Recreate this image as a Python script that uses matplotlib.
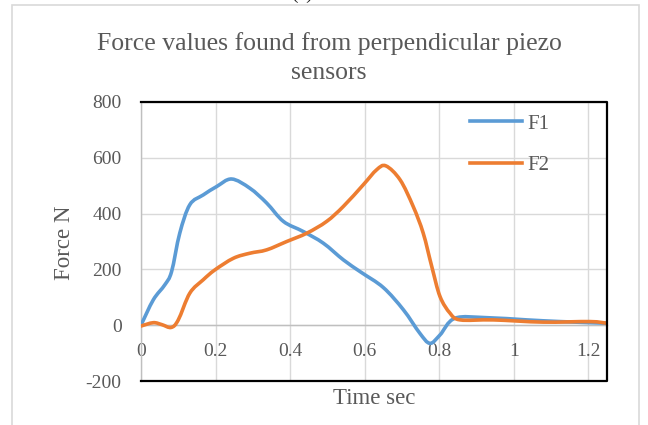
import numpy as np
import matplotlib
matplotlib.use('Agg')
import matplotlib.pyplot as plt
from matplotlib.patches import Rectangle, PathPatch
from matplotlib.path import Path
from matplotlib.lines import Line2D

# 数据
t_f1 = [0, 0.033, 0.064, 0.082, 0.104, 0.131, 0.167, 0.203, 0.243, 0.292, 0.337, 0.382,
        0.435, 0.489, 0.543, 0.590, 0.650, 0.704, 0.748, 0.775, 0.802, 0.842, 0.927,
        1.035, 1.124, 1.25]
f1 = [0, 91, 145, 192, 330, 432, 467, 497, 524, 491, 438, 372,
      336, 294, 234, 190, 135, 55, -29, -65, -35, 25, 27,
      19, 13, 7]

t_f2 = [0, 0.033, 0.056, 0.081, 0.100, 0.131, 0.167, 0.198, 0.248, 0.292, 0.337, 0.391,
        0.445, 0.498, 0.543, 0.596, 0.632, 0.657, 0.695, 0.730, 0.757, 0.780, 0.802,
        0.829, 0.856, 0.945, 1.079, 1.204, 1.25]
f2 = [-3, 9, 2, -8, 19, 115, 163, 198, 240, 258, 270, 300,
      330, 372, 426, 503, 557, 571, 521, 426, 330, 210, 103,
      43, 19, 19, 11, 13, 7]

x_ticks = [0, 0.2, 0.4, 0.6, 0.8, 1, 1.2]
x_tick_labels = ['0', '0.2', '0.4', '0.6', '0.8', '1', '1.2']
y_ticks = [-200, 0, 200, 400, 600, 800]

plt.rcParams['font.family'] = ['Liberation Serif', 'DejaVu Serif']
plt.rcParams['axes.unicode_minus'] = False
txt = '#595959'
W, H = 648, 425


# 平滑线 (像Excel的smoothed line), 用贝塞尔曲线画
def smooth_path(xs, ys):
    p = np.column_stack([xs, ys]).astype(float)
    verts = [p[0]]
    codes = [Path.MOVETO]
    n = len(p)
    for i in range(n - 1):
        p0 = p[i - 1] if i > 0 else p[i]
        p3 = p[i + 2] if i + 2 < n else p[i + 1]
        c1 = p[i] + (p[i + 1] - p0) / 6
        c2 = p[i + 1] - (p3 - p[i]) / 6
        verts += [c1, c2, p[i + 1]]
        codes += [Path.CURVE4] * 3
    return Path(verts, codes)


fig = plt.figure(figsize=(6.48, 4.25), dpi=100)
ax = fig.add_axes([141 / W, 1 - 381 / H, (607 - 141) / W, (381 - 102) / H])

c1, c2 = '#5B9BD5', '#ED7D31'
ax.add_patch(PathPatch(smooth_path(t_f1, f1), fill=False, edgecolor=c1, lw=2.6,
                       capstyle='round', joinstyle='round', zorder=3))
ax.add_patch(PathPatch(smooth_path(t_f2, f2), fill=False, edgecolor=c2, lw=2.6,
                       capstyle='round', joinstyle='round', zorder=4))

ax.set_xlim(0, 1.25)
ax.set_ylim(-200, 800)
ax.set_xticks(x_ticks)
ax.set_xticklabels(x_tick_labels)
ax.set_yticks(y_ticks)
ax.grid(True, color='#D9D9D9', lw=1.0)
ax.set_axisbelow(True)

# x轴放在0处
for s in ['top', 'right']:
    ax.spines[s].set_visible(False)
ax.spines['bottom'].set_position(('data', 0))
ax.spines['bottom'].set_color('#BFBFBF')
ax.spines['bottom'].set_linewidth(1.0)
ax.spines['left'].set_color('#BFBFBF')
ax.spines['left'].set_linewidth(1.0)
ax.tick_params(length=0, labelsize=14, labelcolor=txt)
ax.tick_params(axis='y', pad=14)
ax.tick_params(axis='x', pad=13)

# 黑色边框 (上、右、下)
ax.plot([0, 1, 1, 0], [1, 1, 0, 0], transform=ax.transAxes, color='black', lw=1.6,
        clip_on=False, zorder=5)

handles = [Line2D([], [], color=c1, lw=2.6), Line2D([], [], color=c2, lw=2.6)]
leg = ax.legend(handles, ['F1', 'F2'], loc='upper left', bbox_to_anchor=(470 / W, 1 - 114 / H),
                bbox_transform=fig.transFigure, frameon=False, fontsize=15,
                handlelength=2.5, handletextpad=0.25, labelspacing=1.05,
                borderpad=0, borderaxespad=0)
for t in leg.get_texts():
    t.set_color(txt)

fig.text(329 / W, 1 - 58 / H, 'Force values found from perpendicular piezo\nsensors',
         ha='center', va='center', fontsize=18.5, color=txt, linespacing=1.42)
fig.text(65 / W, 1 - 243 / H, 'Force N', rotation=90, ha='center', va='center',
         fontsize=16.5, color=txt)
fig.text(374 / W, 1 - 398 / H, 'Time sec', ha='center', va='center', fontsize=16.5, color=txt)
fig.text(302 / W, 1 - 3 / H, '(a)', ha='center', va='bottom', fontsize=14, color='#222222')

fig.patches.append(Rectangle((12 / W, -0.05), (639 - 12) / W, 1.05 - 5 / H,
                             transform=fig.transFigure, fill=False,
                             edgecolor='#D9D9D9', lw=1.2))

plt.savefig('out.png', dpi=100)
